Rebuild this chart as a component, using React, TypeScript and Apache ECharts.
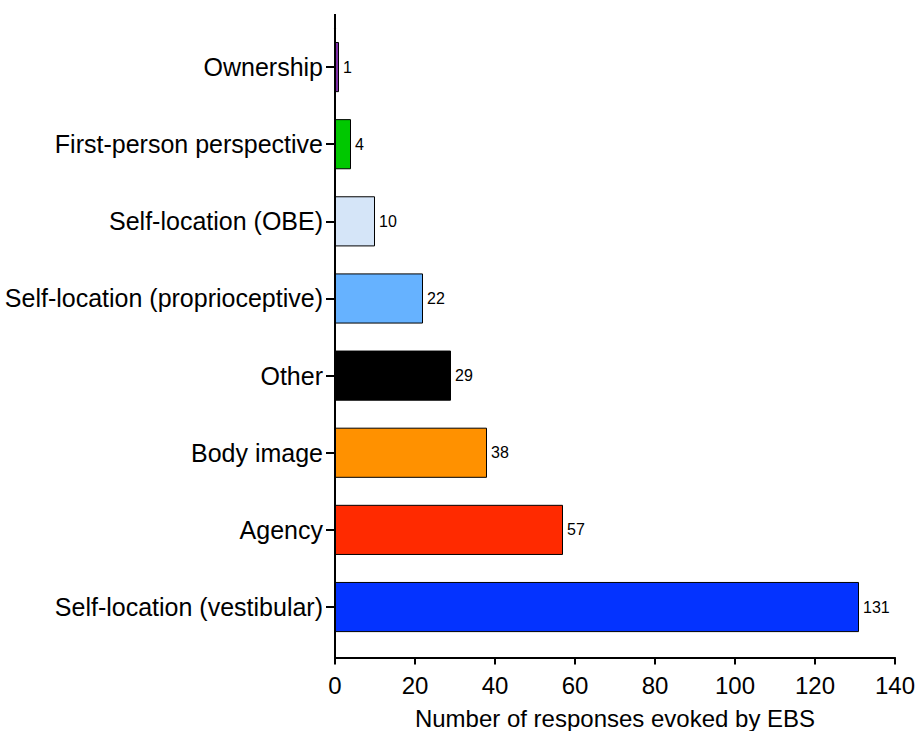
import React, { useEffect, useRef } from "react";
import * as echarts from "echarts";

const categories = [
  "Ownership",
  "First-person perspective",
  "Self-location (OBE)",
  "Self-location (proprioceptive)",
  "Other",
  "Body image",
  "Agency",
  "Self-location (vestibular)",
];
const values = [1, 4, 10, 22, 29, 38, 57, 131];
const colors = ["#7d2fa6", "#00c800", "#d5e5f8", "#66b2ff", "#000000", "#ff9100", "#ff2a00", "#0433ff"];
const xTicks = { min: 0, max: 140, interval: 20 };
const xTitle = "Number of responses evoked by EBS";

const FONT = "'Liberation Sans', Arial, Helvetica, sans-serif";

export default function App() {
  const ref = useRef<HTMLDivElement>(null);
  useEffect(() => {
    document.body.style.margin = "0";
    const chart = echarts.init(ref.current!, null, { renderer: "svg" });
    chart.setOption({
      animation: false,
      backgroundColor: "#ffffff",
      textStyle: { fontFamily: FONT },
      grid: {
        left: 335,
        right: 21,
        top: 28.5,
        bottom: 85.4,
        containLabel: false,
        outerBoundsMode: "none",
      },
      xAxis: {
        type: "value",
        min: xTicks.min,
        max: xTicks.max,
        interval: xTicks.interval,
        offset: 12,
        name: xTitle,
        nameLocation: "middle",
        nameGap: 49,
        nameTextStyle: { fontSize: 24, color: "#000", fontFamily: FONT },
        axisLine: { show: true, lineStyle: { color: "#000", width: 2 } },
        axisTick: { show: true, length: 7, lineStyle: { color: "#000", width: 2 } },
        axisLabel: { fontSize: 24, color: "#000", margin: 16, fontFamily: FONT },
        splitLine: { show: false },
      },
      yAxis: {
        type: "category",
        data: categories,
        inverse: true,
        axisLine: { show: true, lineStyle: { color: "#000", width: 2 } },
        axisTick: { show: true, alignWithLabel: true, length: 9, lineStyle: { color: "#000", width: 2 } },
        axisLabel: { fontSize: 25, color: "#000", margin: 12, fontFamily: FONT },
        splitLine: { show: false },
      },
      graphic: [
        {
          type: "line",
          shape: { x1: 335, y1: 14, x2: 335, y2: 658 },
          style: { stroke: "#000", lineWidth: 2 },
          z: 100,
        },
      ],
      series: [
        {
          type: "bar",
          barCategoryGap: "35%",
          data: values.map((v, i) => ({
            value: v,
            itemStyle: { color: colors[i], borderColor: "#000", borderWidth: 1 },
          })),
          label: {
            show: true,
            position: "right",
            distance: 4,
            fontSize: 16,
            color: "#000",
            fontFamily: FONT,
          },
        },
      ],
    });
    return () => chart.dispose();
  }, []);
  return <div ref={ref} style={{ width: 916, height: 731 }} />;
}
